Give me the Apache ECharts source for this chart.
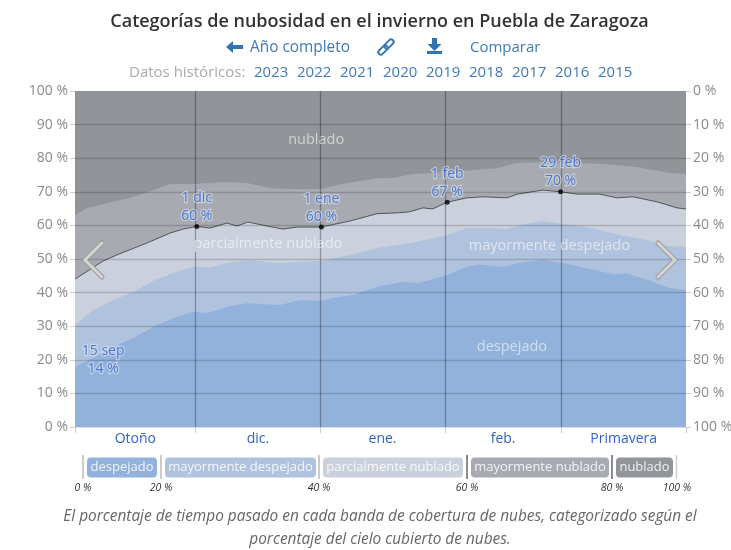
<!DOCTYPE html>
<html><head><meta charset="utf-8">
<style>html,body{margin:0;padding:0;background:#fff}#c{width:731px;height:550px}</style>
<script src="https://cdn.jsdelivr.net/npm/echarts@6/dist/echarts.min.js"></script>
</head><body><div id="c"></div>
<script>
const bandNames=['despejado','mayormente despejado','parcialmente nublado','mayormente nublado','nublado'];
const bandColors=['#92b2dc','#b0c3de','#cad1dd','#a7aab1','#919499'];
const monthTicks=[30,61,92,121];
const monthLabels=[[15,'Otoño'],[45.5,'dic.'],[76.5,'ene.'],[106.5,'feb.'],[136.5,'Primavera']];
const yTicks=[0,10,20,30,40,50,60,70,80,90,100];
const topDespejado=[[0,17.9],[4.5,20.5],[9.5,23.8],[14.5,26.5],[19.5,29.8],[24.4,32.4],[29.4,34.3],[33,33.9],[37.8,35.8],[42.8,36.8],[46.8,36.6],[51,36.3],[56,37.8],[61,37.6],[65.2,38.6],[69.2,39.3],[72,40.5],[75.9,42],[81.6,43.2],[85,42.8],[89,44],[92.5,45.2],[97.5,47.7],[100.7,48.4],[106.5,47.7],[110.7,48.9],[116.4,49.7],[121.4,48.8],[127.4,47.2],[133.8,45.5],[137.3,45.7],[142.3,43.8],[148,41.4],[152,40.8]];
const topMayDespejado=[[0,30.4],[4.5,34.8],[9.5,37.8],[14.5,40.2],[19.5,43.5],[24.4,45.8],[29.4,47.7],[33.6,47.5],[37.8,48.9],[43.5,49.7],[50,48.8],[56,49.2],[61,49.4],[68.4,51.2],[75.9,53.4],[84,54.8],[92.5,57.1],[97.5,59.2],[104,59.2],[107.5,58.9],[110.7,60.1],[116.4,61.3],[121.4,60.4],[127.4,59.5],[133.8,57.7],[142.3,55.6],[148,53.9],[152,53.6]];
const topParcial=[[0,44],[7,49.4],[10.4,51.2],[18,54.8],[23.6,57.7],[26.9,58.9],[30.3,59.7],[33.6,59.2],[37.8,60.7],[40.3,59.8],[43,61],[47.8,59.8],[51.7,58.9],[55.2,59.5],[61.3,59.5],[68.4,61.3],[75.2,63.5],[79.9,63.7],[83,64],[86.6,65.2],[89,64.9],[92.6,66.9],[97.5,68.2],[101.5,68.5],[107.5,68.2],[110,69.3],[116.4,70.5],[120.8,70],[125,69.3],[130.6,69.3],[134.8,68.2],[138.8,68.5],[144.8,67],[149.8,65.2],[152,64.9]];
const topMayNublado=[[0,63],[3,65.2],[7,66.4],[13.7,68.2],[18.7,70.2],[23.6,72.3],[29.4,72.3],[36.8,72.9],[42.8,72.6],[48.5,71.1],[54.2,70.8],[61,70.8],[67.7,72.6],[75.2,74],[79.2,74.1],[84,75.3],[92.5,75.9],[105,77],[110,78.6],[116.4,78.9],[125,78.6],[131.3,78.3],[139.8,77.4],[148,75.6],[152,75.3]];
const topNublado=[[0,100],[152,100]];
const bandTops=[topNublado,topMayNublado,topParcial,topMayDespejado,topDespejado];
const dots=[[30.3,59.7,'1 dic','60 %'],[61.3,59.5,'1 ene','60 %'],[92.6,66.9,'1 feb','67 %'],[120.8,70,'29 feb','70 %']];
const startNote=[7,20,'15 sep\n14 %'];
const bandNotes=[[60,85.5,'nublado'],[48,54.5,'parcialmente nublado'],[118,54,'mayormente despejado'],[108.7,23.7,'despejado']];
const legendStops=[0,20,40,60,80,100];
const years=['2023','2022','2021','2020','2019','2018','2017','2016','2015'];

const FF='"Open Sans","Noto Sans",sans-serif';
const chart=echarts.init(document.getElementById('c'));
const blue='#4079b8', link='#2f62c4', grey='#8a8a8a';
const series=bandTops.map((d,i)=>({
  name:bandNames[4-i],type:'line',data:d,showSymbol:false,symbol:'none',smooth:false,silent:true,
  lineStyle:i===2?{color:'rgba(0,0,0,.55)',width:1}:{width:0},
  areaStyle:{color:bandColors[4-i],opacity:1},z:2+i
}));
series.push({
  type:'line',data:[],silent:true,z:10,symbol:'none',
  markLine:{silent:true,symbol:'none',z:10,label:{show:false},animation:false,
    data:yTicks.slice(1,-1).map(v=>({yAxis:v,lineStyle:{color:'rgba(0,0,0,.17)',width:1.3,type:'solid'}}))
      .concat(monthTicks.map(v=>({xAxis:v,lineStyle:{color:'rgba(0,0,0,.3)',width:1.3,type:'solid'}})))}
});
const halo={textBorderColor:'rgba(225,232,248,.7)',textBorderWidth:2.5};
series.push({type:'scatter',silent:true,z:12,symbolSize:5,itemStyle:{color:'#000'},
  data:dots.map(d=>({value:[d[0],d[1]],label:{formatter:d[2]+'\n'+d[3]}})),
  label:Object.assign({show:true,position:'top',distance:-1,color:link,fontFamily:FF,fontSize:14,lineHeight:18},halo)});
series.push({type:'scatter',silent:true,z:12,symbolSize:0,
  data:[{value:[startNote[0],startNote[1]],label:{formatter:startNote[2]}}],
  label:Object.assign({show:true,position:'inside',color:link,fontFamily:FF,fontSize:14,lineHeight:18},halo)});
series.push({type:'scatter',silent:true,z:12,symbolSize:0,
  data:bandNotes.map(n=>({value:[n[0],n[1]],label:{formatter:n[2]}})),
  label:{show:true,position:'inside',color:'rgba(255,255,255,.72)',fontFamily:FF,fontSize:14.5}});

const g=[];
const T=(x,y,text,o)=>g.push({type:'text',x,y,z:20,style:Object.assign({text,fontFamily:FF,fontSize:15,fill:blue,align:'left',verticalAlign:'middle'},o||{})});
T(379.5,22,'Categorías de nubosidad en el invierno en Puebla de Zaragoza',{fontSize:18,fontWeight:600,fill:'#333',align:'center'});
T(250,48,'Año completo',{fontSize:15.4});T(470,48,'Comparar');
T(129,73,'Datos históricos:',{fill:'#aaa'});
years.forEach((y,i)=>T(254+i*43,73,y));
// header icons
g.push({type:'polygon',z:20,shape:{points:[[226,47],[233,41],[233,45],[243,45],[243,49],[233,49],[233,53]]},style:{fill:'#3273b5'}});
[[383,50],[389,44]].forEach(c=>g.push({type:'rect',z:20,x:c[0],y:c[1],rotation:-Math.PI/4,
  shape:{x:-2.5,y:-5.5,width:5,height:11,r:2.5},style:{stroke:'#3273b5',lineWidth:2,fill:null}}));
g.push({type:'polygon',z:20,shape:{points:[[432,38],[437,38],[437,44],[441.5,44],[434.5,51],[427.5,44],[432,44]]},style:{fill:'#3273b5'}});
g.push({type:'rect',z:20,shape:{x:427,y:51,width:15,height:3},style:{fill:'#3273b5'}});
// chevrons
[[[102,243],[85,260],[102,277]],[[658,243],[675,260],[658,277]]].forEach(p=>{
  g.push({type:'polyline',z:21,shape:{points:p},style:{stroke:'#9b9b9b',lineWidth:5,lineCap:'round',lineJoin:'miter',fill:null}});
  g.push({type:'polyline',z:22,shape:{points:p},style:{stroke:'#d4d4d4',lineWidth:3,lineCap:'round',lineJoin:'miter',fill:null}});
});
// legend strip
const pillEdges=[[87,157],[165,316],[323,463],[471,609],[616,673]];
bandNames.forEach((n,i)=>{
  const [a,b]=pillEdges[i];
  g.push({type:'rect',z:20,shape:{x:a,y:457.5,width:b-a,height:20,r:4},style:{fill:bandColors[i]}});
  T((a+b)/2,467.5,n,{fontSize:13,fill:'rgba(255,255,255,.85)',align:'center'});
});
[[83,'#bbb'],[161,'#bbb'],[319,'#bbb'],[467,'#666'],[612,'#666'],[676.5,'#ccc']].forEach(s=>{
  g.push({type:'rect',z:20,shape:{x:s[0]-0.75,y:455,width:1.5,height:24},style:{fill:s[1]}});
});
[83,161,319,467,612,677].forEach((x,i)=>T(x,488,legendStops[i]+' %',{fontSize:10.5,fontStyle:'italic',fill:'#333',align:'center'}));
T(380,516.5,'El porcentaje de tiempo pasado en cada banda de cobertura de nubes, categorizado según el',{fontSize:15.4,fontStyle:'italic',fill:'#666',align:'center'});
T(380,539.5,'porcentaje del cielo cubierto de nubes.',{fontSize:15.4,fontStyle:'italic',fill:'#666',align:'center'});

chart.setOption({
  animation:false,
  grid:{left:75,right:45,top:91,bottom:123,outerBoundsMode:'none'},
  xAxis:{type:'value',min:0,max:152,splitLine:{show:false},
    axisLine:{show:true,lineStyle:{color:'#ddd'}},
    axisTick:{show:true,length:6,lineStyle:{color:'#ccc'},customValues:[0].concat(monthTicks,[152])},
    axisLabel:{show:true,customValues:monthLabels.map(m=>m[0]),color:link,fontFamily:FF,fontSize:14,margin:5,
      formatter:v=>{const m=monthLabels.find(x=>x[0]===v);return m?m[1]:''}}},
  yAxis:[
   {type:'value',min:0,max:100,interval:10,splitLine:{show:false},axisLine:{show:false},
    axisTick:{show:true,length:5,lineStyle:{color:'#ccc'}},
    axisLabel:{color:grey,fontFamily:FF,fontSize:14,margin:7,padding:[2,0,0,0],formatter:'{value} %'}},
   {type:'value',min:0,max:100,interval:10,inverse:true,position:'right',splitLine:{show:false},axisLine:{show:false},
    axisTick:{show:true,length:5,lineStyle:{color:'#ccc'}},
    axisLabel:{color:grey,fontFamily:FF,fontSize:14,margin:7,padding:[2,0,0,0],formatter:'{value} %'}}
  ],
  series,
  graphic:g
});
</script></body></html>
